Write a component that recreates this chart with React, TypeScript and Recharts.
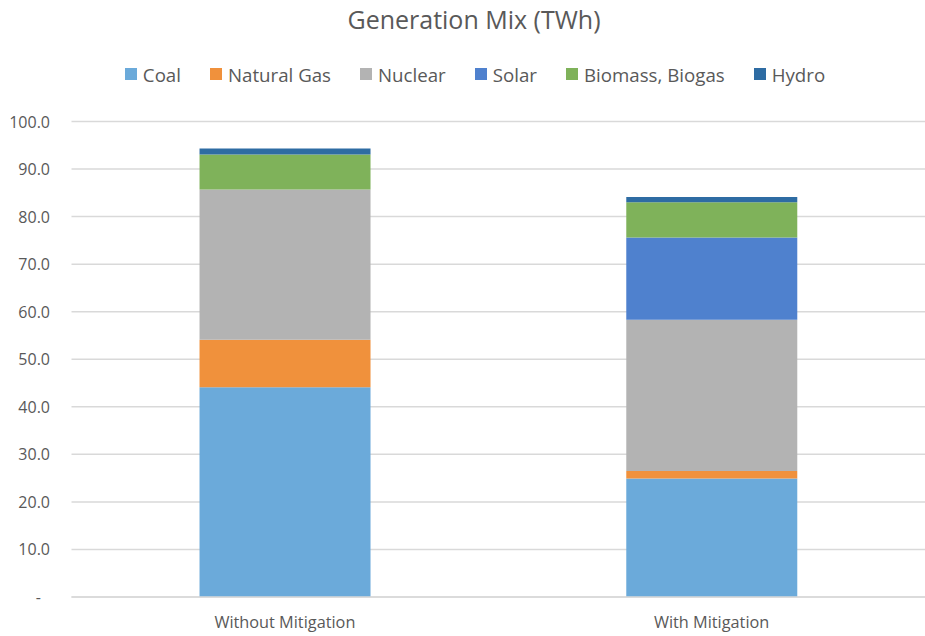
import React from "react";
import { BarChart, Bar, XAxis, YAxis, CartesianGrid, Legend } from "recharts";

const categories = ["Without Mitigation", "With Mitigation"];
const coal = [44.1, 24.9];
const naturalGas = [10.0, 1.6];
const nuclear = [31.6, 31.8];
const solar = [0, 17.3];
const biomass = [7.35, 7.4];
const hydro = [1.25, 1.1];

const seriesNames = ["Coal", "Natural Gas", "Nuclear", "Solar", "Biomass, Biogas", "Hydro"];
const seriesKeys = ["coal", "gas", "nuclear", "solar", "biomass", "hydro"];
const seriesColors = ["#6BAADA", "#F0913C", "#B3B3B3", "#4F81CE", "#7FB25A", "#2E6CA3"];
const yTicks = [0, 10, 20, 30, 40, 50, 60, 70, 80, 90, 100];

const data = categories.map((name, i) => ({
  name,
  coal: coal[i],
  gas: naturalGas[i],
  nuclear: nuclear[i],
  solar: solar[i],
  biomass: biomass[i],
  hydro: hydro[i],
}));

const FONT = "'Open Sans', sans-serif";
const TEXT = "#595959";

const LegendContent = () => (
  <div
    style={{
      display: "flex",
      justifyContent: "center",
      alignItems: "center",
      gap: 29,
      fontFamily: FONT,
      fontSize: 18.7,
      color: TEXT,
      height: 26,
    }}
  >
    {seriesNames.map((n, i) => (
      <div key={n} style={{ display: "flex", alignItems: "center" }}>
        <div style={{ width: 12, height: 12, background: seriesColors[i], marginRight: 6 }} />
        <span>{n}</span>
      </div>
    ))}
  </div>
);

const YTick = (props: any) => {
  const { x, y, payload } = props;
  const isZero = payload.value === 0;
  const label = isZero ? "-" : Number(payload.value).toFixed(1);
  return (
    <text
      x={isZero ? x - 9 : x}
      y={y}
      dy={6}
      textAnchor="end"
      fill={TEXT}
      fontFamily={FONT}
      fontSize={16}
    >
      {label}
    </text>
  );
};

export default function App() {
  return (
    <div style={{ position: "absolute", left: 0, top: 0, width: 925, height: 636, background: "#fff" }}>
      <div
        style={{
          position: "absolute",
          left: 0,
          width: 948,
          top: 2,
          textAlign: "center",
          fontFamily: FONT,
          fontSize: 25,
          color: TEXT,
          zIndex: 2,
        }}
      >
        Generation Mix (TWh)
      </div>
      <BarChart
        width={925}
        height={636}
        data={data}
        margin={{ top: 121.5, right: 0, bottom: 9, left: 0 }}
        barCategoryGap="30%"
      >
        <CartesianGrid vertical={false} stroke="#D9D9D9" strokeWidth={1.5} />
        <XAxis
          dataKey="name"
          axisLine={{ stroke: "#D9D9D9", strokeWidth: 1.5 }}
          tickLine={false}
          tickSize={6}
          tickMargin={13}
          tick={{ fill: TEXT, fontFamily: FONT, fontSize: 16.3 }}
          height={30}
        />
        <YAxis
          domain={[0, 100]}
          ticks={yTicks}
          width={71.5}
          axisLine={false}
          tickLine={false}
          tickSize={6}
          tickMargin={15.5}
          tick={<YTick />}
          interval={0}
        />
        <Legend
          verticalAlign="middle"
          layout="horizontal"
          content={<LegendContent />}
          wrapperStyle={{ top: 61, left: 0, width: 950 }}
        />
        {seriesKeys.map((k, i) => (
          <Bar
            key={k}
            dataKey={k}
            name={seriesNames[i]}
            stackId="a"
            fill={seriesColors[i]}
            isAnimationActive={false}
          />
        ))}
      </BarChart>
    </div>
  );
}
